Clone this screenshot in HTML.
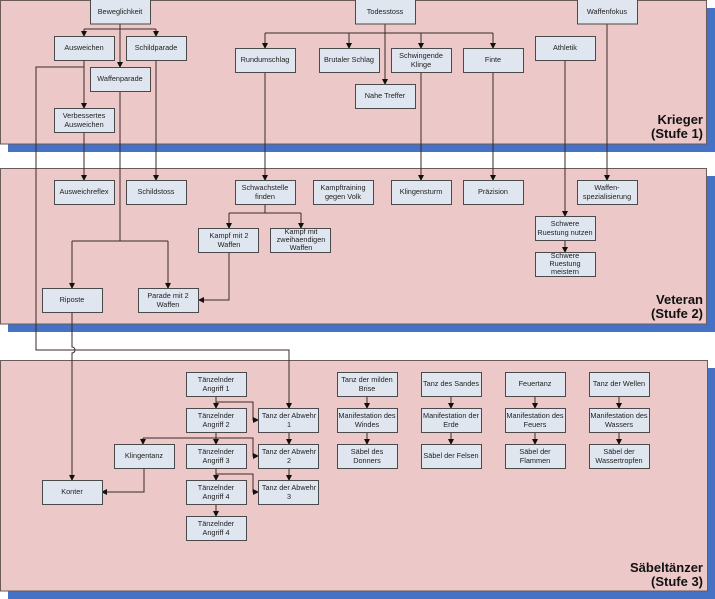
<!DOCTYPE html>
<html><head><meta charset="utf-8"><style>
html,body{margin:0;padding:0;background:#fff;}
svg{display:block;}
text{font-family:"Liberation Sans",sans-serif;}
.b rect{fill:#dfe6f0;stroke:#4a4a4a;stroke-width:1;}
.t{font-size:7.3px;fill:#222;text-anchor:middle;}
.l{fill:none;stroke:#3a2a2a;stroke-width:1;}
.h{font-size:13px;font-weight:bold;fill:#111;text-anchor:end;}
</style></head><body>
<svg width="715" height="599" viewBox="0 0 715 599" xmlns="http://www.w3.org/2000/svg">
<defs><marker id="a" markerWidth="6" markerHeight="6" refX="5" refY="3" orient="auto" markerUnits="userSpaceOnUse"><path d="M0,0 L6,3 L0,6 z" fill="#111"/></marker></defs>
<!-- panels -->
<rect x="8" y="8" width="707" height="144" fill="#4572c4"/>
<rect x="0.5" y="0.5" width="706" height="143.5" fill="#ecc9c8" stroke="#6a5a5a"/>
<rect x="8" y="176" width="707" height="156" fill="#4572c4"/>
<rect x="0.5" y="168.5" width="706" height="155.5" fill="#ecc9c8" stroke="#6a5a5a"/>
<rect x="8" y="368" width="707" height="231" fill="#4572c4"/>
<rect x="0.5" y="360.5" width="707" height="230.5" fill="#ecc9c8" stroke="#6a5a5a"/>
<text class="h" x="703" y="124">Krieger</text><text class="h" x="703" y="138">(Stufe 1)</text>
<text class="h" x="703" y="304">Veteran</text><text class="h" x="703" y="318">(Stufe 2)</text>
<text class="h" x="703" y="572">Säbeltänzer</text><text class="h" x="703" y="586">(Stufe 3)</text>

<!-- connectors -->
<g class="l">
<path d="M120,24 V67" marker-end="url(#a)"/>
<path d="M84,29 H156"/><path d="M84,29 V36" marker-end="url(#a)"/><path d="M156,29 V36" marker-end="url(#a)"/>
<path d="M84,60 V108" marker-end="url(#a)"/>
<path d="M84,67 H36 V350 H289 V408" marker-end="url(#a)"/>
<path d="M84,132 V180" marker-end="url(#a)"/>
<path d="M156,60 V180" marker-end="url(#a)"/>
<path d="M120,91 V241"/><path d="M72,241 H168"/>
<path d="M72,241 V288" marker-end="url(#a)"/><path d="M168,241 V288" marker-end="url(#a)"/>
<path d="M72,312 V347 A3,3 0 0 1 72,353 V480" marker-end="url(#a)"/>
<path d="M385,24 V84" marker-end="url(#a)"/>
<path d="M265,33 H493"/>
<path d="M265,33 V48" marker-end="url(#a)"/><path d="M349,33 V48" marker-end="url(#a)"/><path d="M421,33 V48" marker-end="url(#a)"/><path d="M493,33 V48" marker-end="url(#a)"/>
<path d="M265,72 V180" marker-end="url(#a)"/>
<path d="M421,72 V180" marker-end="url(#a)"/>
<path d="M493,72 V180" marker-end="url(#a)"/>
<path d="M565,60 V216" marker-end="url(#a)"/>
<path d="M565,240 V252" marker-end="url(#a)"/>
<path d="M607,24 V180" marker-end="url(#a)"/>
<path d="M265,204 V213"/><path d="M229,213 H301"/>
<path d="M229,213 V228" marker-end="url(#a)"/><path d="M301,213 V228" marker-end="url(#a)"/>
<path d="M229,252 V300 H199" marker-end="url(#a)"/>
<!-- panel 3 -->
<path d="M216,396 V408" marker-end="url(#a)"/>
<path d="M216,402 H253 V420 H258" marker-end="url(#a)"/>
<path d="M216,432 V444" marker-end="url(#a)"/>
<path d="M143,438 H253 V456 H258" marker-end="url(#a)"/>
<path d="M143,438 V444" marker-end="url(#a)"/>
<path d="M216,468 V480" marker-end="url(#a)"/>
<path d="M216,474 H253 V492 H258" marker-end="url(#a)"/>
<path d="M216,504 V516" marker-end="url(#a)"/>
<path d="M289,432 V444" marker-end="url(#a)"/>
<path d="M289,468 V480" marker-end="url(#a)"/>
<path d="M144,468 V492 H102" marker-end="url(#a)"/>
<path d="M367,396 V408" marker-end="url(#a)"/><path d="M367,432 V444" marker-end="url(#a)"/>
<path d="M451,396 V408" marker-end="url(#a)"/><path d="M451,432 V444" marker-end="url(#a)"/>
<path d="M535,396 V408" marker-end="url(#a)"/><path d="M535,432 V444" marker-end="url(#a)"/>
<path d="M619,396 V408" marker-end="url(#a)"/><path d="M619,432 V444" marker-end="url(#a)"/>
</g>

<!-- boxes -->
<g class="b">
<rect x="90.5" y="-1" width="60" height="25"/>
<rect x="54.5" y="36.5" width="60" height="24"/>
<rect x="126.5" y="36.5" width="60" height="24"/>
<rect x="90.5" y="67.5" width="60" height="24"/>
<rect x="54.5" y="108.5" width="60" height="24"/>
<rect x="235.5" y="48.5" width="60" height="24"/>
<rect x="319.5" y="48.5" width="60" height="24"/>
<rect x="355.5" y="-1" width="60" height="25"/>
<rect x="391.5" y="48.5" width="60" height="24"/>
<rect x="463.5" y="48.5" width="60" height="24"/>
<rect x="355.5" y="84.5" width="60" height="24"/>
<rect x="535.5" y="36.5" width="60" height="24"/>
<rect x="577.5" y="-1" width="60" height="25"/>
<rect x="54.5" y="180.5" width="60" height="24"/>
<rect x="126.5" y="180.5" width="60" height="24"/>
<rect x="235.5" y="180.5" width="60" height="24"/>
<rect x="313.5" y="180.5" width="60" height="24"/>
<rect x="391.5" y="180.5" width="60" height="24"/>
<rect x="463.5" y="180.5" width="60" height="24"/>
<rect x="577.5" y="180.5" width="60" height="24"/>
<rect x="535.5" y="216.5" width="60" height="24"/>
<rect x="535.5" y="252.5" width="60" height="24"/>
<rect x="198.5" y="228.5" width="60" height="24"/>
<rect x="270.5" y="228.5" width="60" height="24"/>
<rect x="42.5" y="288.5" width="60" height="24"/>
<rect x="138.5" y="288.5" width="60" height="24"/>
<rect x="186.5" y="372.5" width="60" height="24"/>
<rect x="186.5" y="408.5" width="60" height="24"/>
<rect x="186.5" y="444.5" width="60" height="24"/>
<rect x="186.5" y="480.5" width="60" height="24"/>
<rect x="186.5" y="516.5" width="60" height="24"/>
<rect x="258.5" y="408.5" width="60" height="24"/>
<rect x="258.5" y="444.5" width="60" height="24"/>
<rect x="258.5" y="480.5" width="60" height="24"/>
<rect x="114.5" y="444.5" width="60" height="24"/>
<rect x="42.5" y="480.5" width="60" height="24"/>
<rect x="337.5" y="372.5" width="60" height="24"/><rect x="337.5" y="408.5" width="60" height="24"/><rect x="337.5" y="444.5" width="60" height="24"/>
<rect x="421.5" y="372.5" width="60" height="24"/><rect x="421.5" y="408.5" width="60" height="24"/><rect x="421.5" y="444.5" width="60" height="24"/>
<rect x="505.5" y="372.5" width="60" height="24"/><rect x="505.5" y="408.5" width="60" height="24"/><rect x="505.5" y="444.5" width="60" height="24"/>
<rect x="589.5" y="372.5" width="60" height="24"/><rect x="589.5" y="408.5" width="60" height="24"/><rect x="589.5" y="444.5" width="60" height="24"/>
</g>

<g class="t">
<text x="120" y="14">Beweglichkeit</text>
<text x="84" y="50">Ausweichen</text>
<text x="156" y="50">Schildparade</text>
<text x="120" y="81">Waffenparade</text>
<text x="84" y="118">Verbessertes</text><text x="84" y="127">Ausweichen</text>
<text x="265" y="62">Rundumschlag</text>
<text x="349" y="62">Brutaler Schlag</text>
<text x="385" y="14">Todesstoss</text>
<text x="421" y="58">Schwingende</text><text x="421" y="67">Klinge</text>
<text x="493" y="62">Finte</text>
<text x="385" y="98">Nahe Treffer</text>
<text x="565" y="50">Athletik</text>
<text x="607" y="14">Waffenfokus</text>
<text x="84" y="194">Ausweichreflex</text>
<text x="156" y="194">Schildstoss</text>
<text x="265" y="190">Schwachstelle</text><text x="265" y="199">finden</text>
<text x="343" y="190">Kampftraining</text><text x="343" y="199">gegen Volk</text>
<text x="421" y="194">Klingensturm</text>
<text x="493" y="194">Präzision</text>
<text x="607" y="190">Waffen-</text><text x="607" y="199">spezialisierung</text>
<text x="565" y="226">Schwere</text><text x="565" y="235">Ruestung nutzen</text>
<text x="565" y="258">Schwere</text><text x="565" y="266">Ruestung</text><text x="565" y="274">meistern</text>
<text x="229" y="238">Kampf mit 2</text><text x="229" y="247">Waffen</text>
<text x="301" y="234">Kampf mit</text><text x="301" y="242">zweihaendigen</text><text x="301" y="250">Waffen</text>
<text x="72" y="302">Riposte</text>
<text x="168" y="298">Parade mit 2</text><text x="168" y="307">Waffen</text>
<text x="216" y="382">Tänzelnder</text><text x="216" y="391">Angriff 1</text>
<text x="216" y="418">Tänzelnder</text><text x="216" y="427">Angriff 2</text>
<text x="216" y="454">Tänzelnder</text><text x="216" y="463">Angriff 3</text>
<text x="216" y="490">Tänzelnder</text><text x="216" y="499">Angriff 4</text>
<text x="216" y="526">Tänzelnder</text><text x="216" y="535">Angriff 4</text>
<text x="289" y="418">Tanz der Abwehr</text><text x="289" y="427">1</text>
<text x="289" y="454">Tanz der Abwehr</text><text x="289" y="463">2</text>
<text x="289" y="490">Tanz der Abwehr</text><text x="289" y="499">3</text>
<text x="144" y="458">Klingentanz</text>
<text x="72" y="494">Konter</text>
<text x="367" y="382">Tanz der milden</text><text x="367" y="391">Brise</text>
<text x="367" y="418">Manifestation des</text><text x="367" y="427">Windes</text>
<text x="367" y="454">Säbel des</text><text x="367" y="463">Donners</text>
<text x="451" y="386">Tanz des Sandes</text>
<text x="451" y="418">Manifestation der</text><text x="451" y="427">Erde</text>
<text x="451" y="458">Säbel der Felsen</text>
<text x="535" y="386">Feuertanz</text>
<text x="535" y="418">Manifestation des</text><text x="535" y="427">Feuers</text>
<text x="535" y="454">Säbel der</text><text x="535" y="463">Flammen</text>
<text x="619" y="386">Tanz der Wellen</text>
<text x="619" y="418">Manifestation des</text><text x="619" y="427">Wassers</text>
<text x="619" y="454">Säbel der</text><text x="619" y="463">Wassertropfen</text>
</g>
</svg>
</body></html>
